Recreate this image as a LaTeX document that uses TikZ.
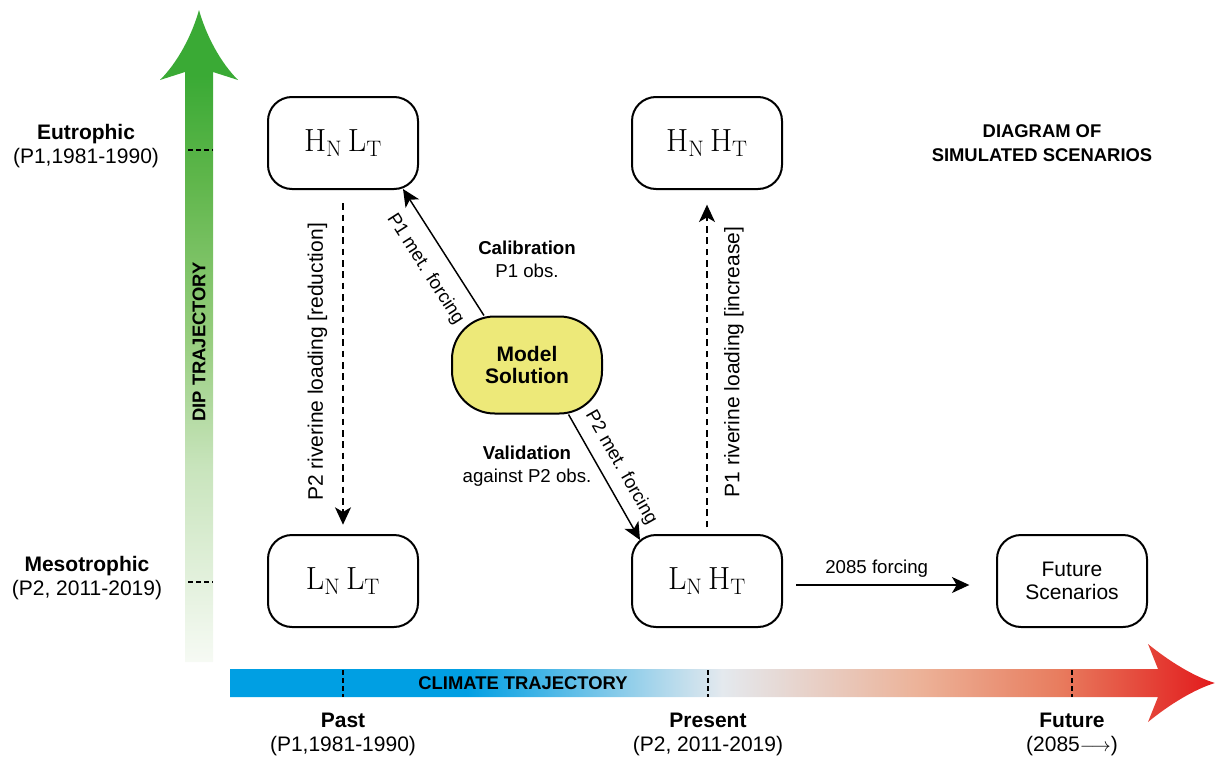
\documentclass[tikz,border=0pt]{standalone}
\usepackage{fontspec}
\setsansfont{Liberation Sans}
\usetikzlibrary{arrows.meta,calc}

\definecolor{dipgreen}{RGB}{58,170,53}
\definecolor{dipmidA}{RGB}{95,182,75}
\definecolor{dipmidB}{RGB}{150,205,125}
\definecolor{dipmidC}{RGB}{200,228,188}
\definecolor{dipfade}{RGB}{246,250,244}
\definecolor{climblue}{RGB}{0,159,227}
\definecolor{climpale}{RGB}{228,233,238}
\definecolor{climsalmon}{RGB}{236,178,152}
\definecolor{climorange}{RGB}{232,125,95}
\definecolor{climred}{RGB}{226,26,28}
\definecolor{modelfill}{RGB}{237,233,121}

\pgfdeclareverticalshading{dipshade}{100bp}{color(0bp)=(dipfade); color(25bp)=(dipfade);
  color(40bp)=(dipmidC); color(50bp)=(dipmidB); color(62bp)=(dipmidA); color(70bp)=(dipgreen);
  color(100bp)=(dipgreen)}
\pgfdeclarehorizontalshading{climshade}{100bp}{color(0bp)=(climblue); color(25bp)=(climblue);
  color(37bp)=(climblue); color(50bp)=(climpale); color(60bp)=(climsalmon); color(67bp)=(climorange);
  color(75bp)=(climred); color(100bp)=(climred)}

\tikzset{
  scen/.style={draw, line width=1.5pt, rounded corners=18pt, minimum width=112.5pt,
    minimum height=69pt, align=center, font=\rmfamily\fontsize{24}{28}\selectfont},
  model/.style={draw, line width=1.5pt, rounded corners=32pt, fill=modelfill, minimum width=112.5pt,
    minimum height=72.75pt, align=center, font=\sffamily\bfseries\fontsize{15.75}{17}\selectfont},
  big/.style={font=\sffamily\fontsize{15.75}{18}\selectfont, align=center},
  small/.style={font=\sffamily\fontsize{14}{17}\selectfont, align=center},
  smallbf/.style={font=\sffamily\bfseries\fontsize{13.8}{17.5}\selectfont, align=center},
  conn/.style={line width=1.1pt},
  dashconn/.style={line width=1.1pt, dash pattern=on 5pt off 3.5pt},
  tickline/.style={line width=1.5pt, dash pattern=on 3.75pt off 2.25pt}
}

\begin{document}
\begin{tikzpicture}[x=0.75pt, y=-0.75pt, >={Stealth[length=13pt,width=12pt,inset=3.5pt]}, font=\sffamily]
  \useasboundingbox (0,0) rectangle (1215,757);

  % trajectory arrows
  \shade[shading=dipshade] (185,662) -- (185,72) -- (160,80) .. controls (178,62) and (192,35) .. (199,10)
    .. controls (206,35) and (220,62) .. (238,80) -- (213,72) -- (213,662) -- cycle;
  \shade[shading=climshade] (230,669) -- (1158,669) -- (1148,644) .. controls (1170,662) and (1195,677) .. (1215,683)
    .. controls (1195,689) and (1170,704) .. (1148,722) -- (1158,697) -- (230,697) -- cycle;
  \draw[tickline] (188,150) -- (213,150);
  \draw[tickline] (188,582) -- (213,582);
  \foreach \xx in {343,708,1072}
    \draw[tickline] (\xx,670) -- (\xx,697);

  \node[smallbf, rotate=90] (diplbl) at (199,342) {DIP TRAJECTORY};
  \node[smallbf] (climlbl) at (523,683) {CLIMATE TRAJECTORY};

  \node[big] (eutro) at (86,146) {\textbf{Eutrophic}\\(P1,1981-1990)};
  \node[big] (meso) at (87,578) {\textbf{Mesotrophic}\\(P2, 2011-2019)};
  \node[big] (past) at (343,734) {\textbf{Past}\\(P1,1981-1990)};
  \node[big] (present) at (708,734) {\textbf{Present}\\(P2, 2011-2019)};
  \node[big] (futlbl) at (1072,734) {\textbf{Future}\\(2085$\longrightarrow$)};

  % scenarios
  \node[scen] (hnlt) at (343,143) {$\mathrm{H_N\,L_T}$};
  \node[scen] (hnht) at (707,143) {$\mathrm{H_N\,H_T}$};
  \node[scen] (lnlt) at (343,581) {$\mathrm{L_N\,L_T}$};
  \node[scen] (lnht) at (707,581) {$\mathrm{L_N\,H_T}$};
  \node[scen, font=\sffamily\fontsize{15.75}{17.8}\selectfont] (future) at (1072,581) {Future\\Scenarios};
  \node[model] (model) at (527,365) {Model\\Solution};

  \node[small] (calib) at (527,259) {\textbf{Calibration}\\P1 obs.};
  \node[small] (valid) at (527,466) {\textbf{Validation}\\against P2 obs.};
  \node[smallbf] (title) at (1042,143) {DIAGRAM OF\\SIMULATED SCENARIOS};

  \draw[->, conn] (model.131) -- ($(hnlt.south east)+(-16,-1)$)
    node[pos=0.47, sloped, below=8pt, small] {P1 met. forcing};
  \draw[->, conn] (model.-50) -- ($(lnht.north west)+(9,6)$)
    node[pos=0.5, sloped, above=4pt, small] {P2 met. forcing};
  \draw[->, dashconn, shorten <=10pt, shorten >=7pt] (hnlt) -- (lnlt)
    node[midway, rotate=90, above=8pt, big] {P2 riverine loading [reduction]};
  \draw[->, dashconn, shorten <=5pt, shorten >=11pt] (lnht) -- (hnht)
    node[midway, rotate=90, below=9pt, big] {P1 riverine loading [increase]};
  \draw[->, conn, shorten <=10pt, shorten >=20pt] ([yshift=-3pt]lnht.east) -- ([yshift=-3pt]future.west)
    node[pos=0.44, above=2pt, small] {2085 forcing};
\end{tikzpicture}
\end{document}
